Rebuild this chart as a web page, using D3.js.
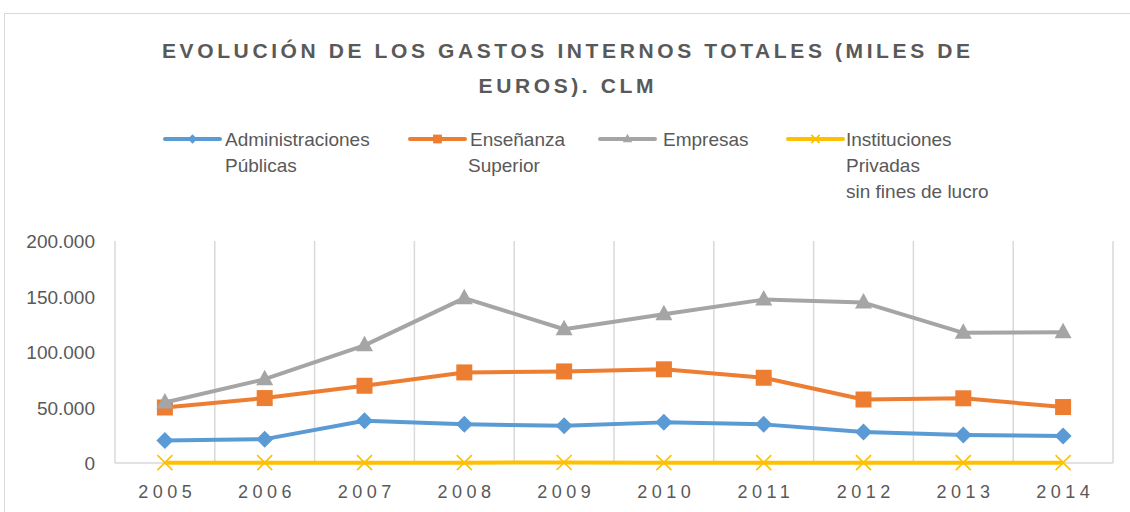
<!DOCTYPE html>
<html><head><meta charset="utf-8">
<script src="https://cdn.jsdelivr.net/npm/d3@7"></script>
<style>body{margin:0;background:#fff}svg{display:block}</style>
</head><body>
<svg id="c" width="1130" height="512"></svg>
<script>
const years = ["2005","2006","2007","2008","2009","2010","2011","2012","2013","2014"];
const adminPublicas = [20300, 21500, 38000, 34800, 33500, 36600, 34800, 28000, 25200, 24300];
const ensenanzaSuperior = [50000, 58500, 69600, 81600, 82500, 84400, 76800, 57200, 58300, 50400];
const empresas = [54500, 75500, 106000, 148500, 120500, 134000, 147200, 144500, 117300, 117800];
const instituciones = [300, 300, 300, 300, 400, 300, 300, 300, 300, 300];
const yTicks = [0, 50000, 100000, 150000, 200000];
const titleLines = ["EVOLUCIÓN DE LOS GASTOS INTERNOS TOTALES (MILES DE", "EUROS). CLM"];
const seriesNames = [["Administraciones","Públicas"],["Enseñanza","Superior"],["Empresas"],["Instituciones","Privadas","sin fines de lucro"]];

const series = [
  {name: seriesNames[0], values: adminPublicas, color: "#5B9BD5", marker: "diamond"},
  {name: seriesNames[1], values: ensenanzaSuperior, color: "#ED7D31", marker: "square"},
  {name: seriesNames[2], values: empresas, color: "#A5A5A5", marker: "triangle"},
  {name: seriesNames[3], values: instituciones, color: "#FFC000", marker: "x"}
];

const svg = d3.select("#c");
const font = "'Liberation Sans', Arial, sans-serif";
const txt = "#595959";

// chart border
svg.append("rect").attr("x",4.5).attr("y",13.5).attr("width",1140).attr("height",520)
  .attr("fill","#fff").attr("stroke","#d9d9d9").attr("stroke-width",1);

// title: fit letter spacing so first line spans target width
const titleG = svg.append("g");
const tt = titleG.selectAll("text").data(titleLines).join("text")
  .attr("x",566).attr("y",(d,i)=>58+i*35)
  .attr("text-anchor","middle")
  .attr("font-family",font).attr("font-weight","bold").attr("font-size",21)
  .attr("fill",txt).text(d=>d);
const natural = tt.nodes()[0].getComputedTextLength();
const n0 = titleLines[0].length;
const ls = Math.max(0,(808 - natural)/(n0-1));
tt.attr("letter-spacing", ls+"px").attr("dx", ls/2);

const x = d3.scaleBand().domain(years).range([115,1113]);
const y = d3.scaleLinear().domain([0,200000]).range([463,241]);

// vertical gridlines at band boundaries
const bounds = years.map(d=>x(d)).concat([x.range()[1]]);
svg.append("g").selectAll("line").data(bounds).join("line")
  .attr("x1",d=>d).attr("x2",d=>d).attr("y1",y(200000)).attr("y2",y(0))
  .attr("stroke","#d9d9d9").attr("stroke-width",1.5);
svg.append("line").attr("x1",115).attr("x2",1113).attr("y1",y(0)).attr("y2",y(0))
  .attr("stroke","#d9d9d9").attr("stroke-width",1.5);

// y axis labels
const yAxis = d3.axisLeft(y).tickValues(yTicks).tickSize(0).tickPadding(0)
  .tickFormat(d=> d===0 ? "0" : d3.format(",")(d).replace(/,/g,"."));
const yg = svg.append("g").attr("transform","translate(95,0)").call(yAxis);
yg.select(".domain").remove();
yg.selectAll("text").attr("font-family",font).attr("font-size",19).attr("fill",txt).attr("dy","0.36em");

// x axis labels
const xAxis = d3.axisBottom(x).tickSize(0).tickPadding(0);
const xg = svg.append("g").attr("transform","translate(0,0)").call(xAxis);
xg.select(".domain").remove();
xg.selectAll("text").attr("font-family",font).attr("font-size",18).attr("fill",txt)
  .attr("letter-spacing","4.5px").attr("dx","2.25px").attr("y",498).attr("dy",0);

function drawMarker(g, type, color, cx, cy, s) {
  if (type==="diamond") {
    g.append("path").attr("d",`M${cx},${cy-8.5*s}L${cx+8.5*s},${cy}L${cx},${cy+8.5*s}L${cx-8.5*s},${cy}Z`).attr("fill",color);
  } else if (type==="square") {
    g.append("rect").attr("x",cx-8*s).attr("y",cy-8*s).attr("width",16*s).attr("height",16*s).attr("fill",color);
  } else if (type==="triangle") {
    g.append("path").attr("d",`M${cx},${cy-9.5*s}L${cx+8.5*s},${cy+6*s}L${cx-8.5*s},${cy+6*s}Z`).attr("fill",color);
  } else {
    g.append("path").attr("d",`M${cx-7.5*s},${cy-7.5*s}L${cx+7.5*s},${cy+7.5*s}M${cx-7.5*s},${cy+7.5*s}L${cx+7.5*s},${cy-7.5*s}`)
      .attr("stroke",color).attr("stroke-width",1.6).attr("fill","none");
  }
}

const line = d3.line().x((d,i)=>x(years[i])+x.bandwidth()/2).y(d=>y(d));
series.forEach((s,k)=>{
  const g = svg.append("g");
  g.append("path").datum(s.values).attr("d",line).attr("fill","none")
    .attr("stroke",s.color).attr("stroke-width",4).attr("stroke-linejoin","round");
  s.values.forEach((v,i)=>drawMarker(g, s.marker, s.color, x(years[i])+x.bandwidth()/2, y(v), 1));
});

// legend
const legendX = [165, 410, 600, 788];
const legendTextX = [225, 470, 663, 846];
series.forEach((s,k)=>{
  const g = svg.append("g");
  const lx = legendX[k], ly = 139;
  g.append("line").attr("x1",lx).attr("x2",lx+55).attr("y1",ly).attr("y2",ly)
    .attr("stroke",s.color).attr("stroke-width",4).attr("stroke-linecap","round");
  drawMarker(g, s.marker, s.color, lx+27.5, ly, 0.55);
  s.name.forEach((t,j)=>{
    g.append("text").attr("x",legendTextX[k] - (k===1 && j===1 ? 2 : 0)).attr("y",146+j*26)
      .attr("font-family",font).attr("font-size",19).attr("fill",txt).text(t);
  });
});
</script>
</body></html>
